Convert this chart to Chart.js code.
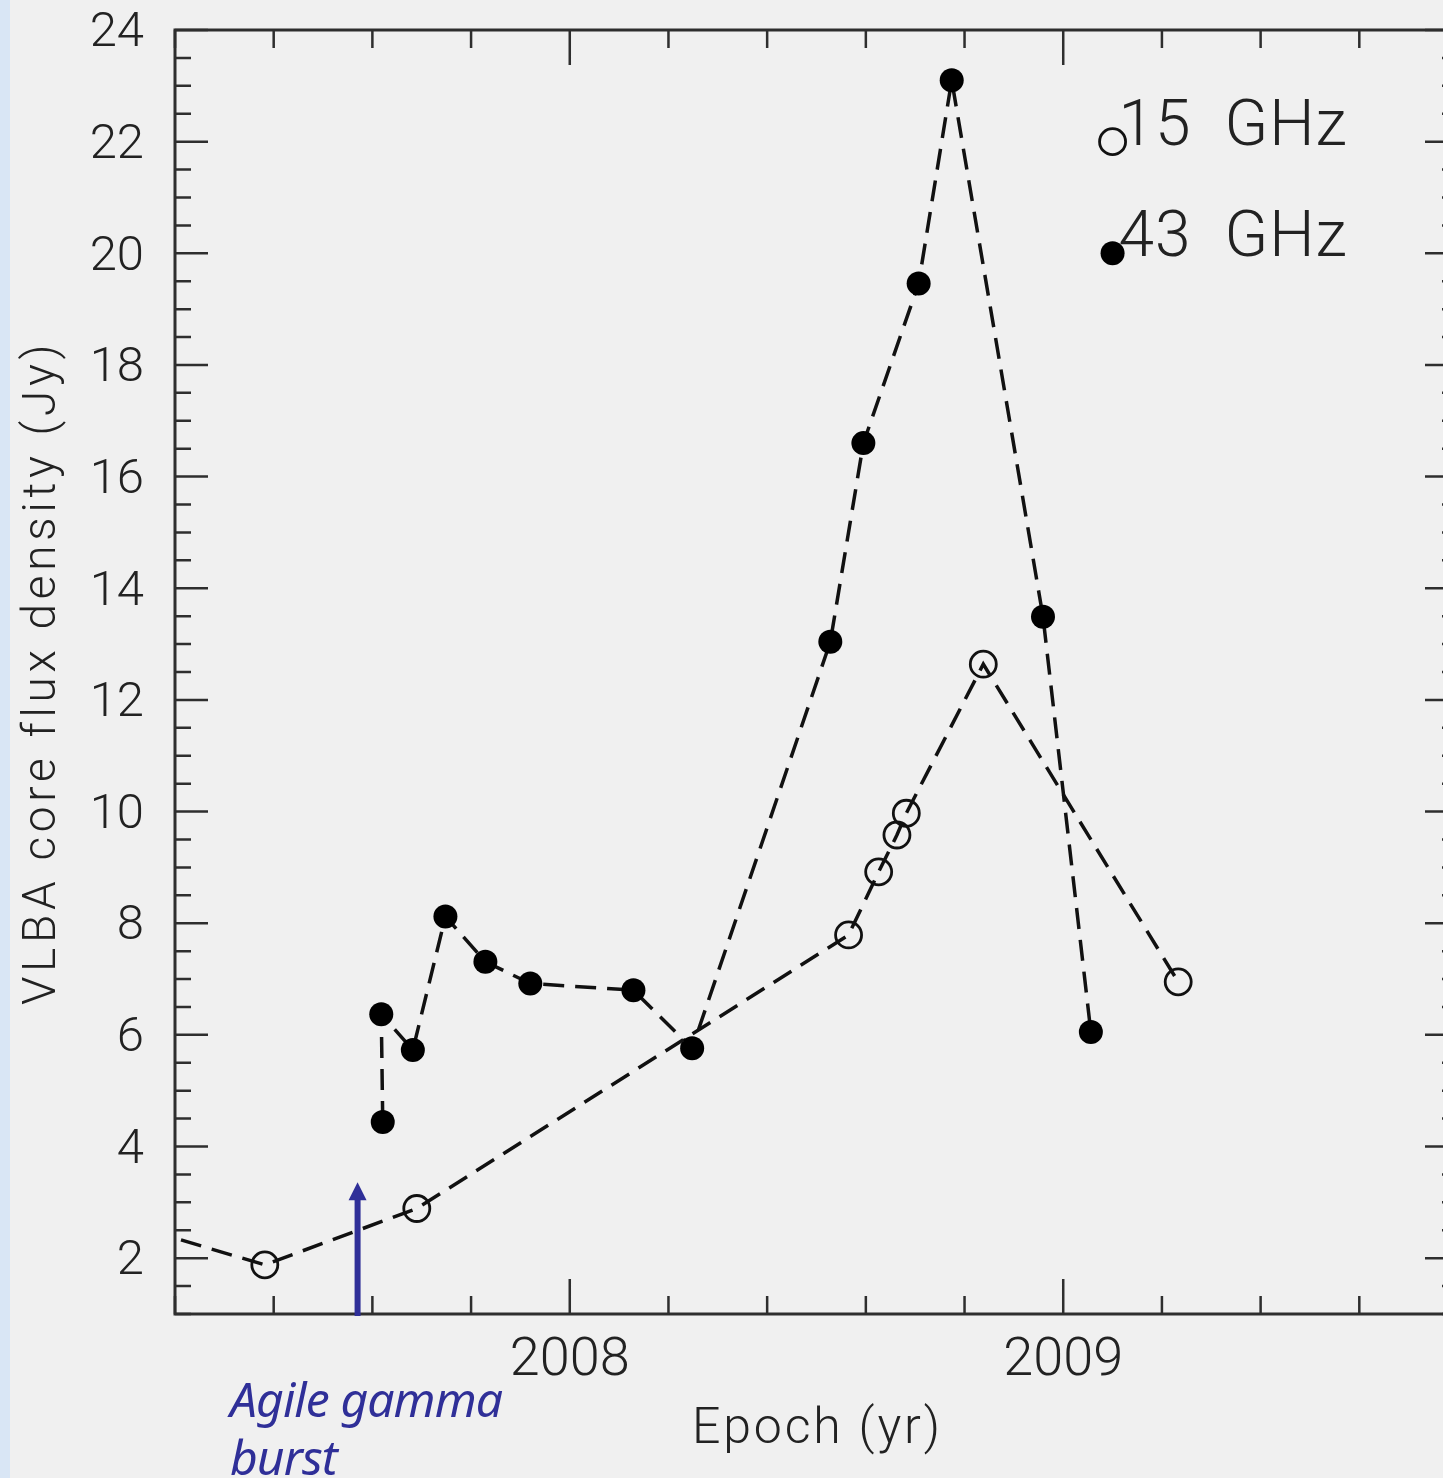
<!DOCTYPE html>
<html>
<head>
<meta charset="utf-8">
<title>VLBA core flux density</title>
<script src="https://cdn.jsdelivr.net/npm/chart.js@4.4.0/dist/chart.umd.min.js"></script>
<style>
  html, body { margin: 0; padding: 0; background: #f0f0f0; overflow: hidden; }
  #strip { position: absolute; left: 0; top: 0; width: 10px; height: 1478px; background: #d9e6f5; }
  #myChart { position: absolute; left: 0; top: 0; }
</style>
</head>
<body>
<div id="strip"></div>
<canvas id="myChart" width="1480" height="1478"></canvas>
<script>
// epochs (decimal year) and VLBA core flux densities (Jy)
var epoch15 = [2007.15, 2007.382, 2007.690, 2008.565, 2008.626, 2008.663, 2008.682, 2008.838, 2009.233];
var flux15  = [2.49, 1.88, 2.89, 7.79, 8.92, 9.58, 9.97, 12.64, 6.95];
var epoch43 = [2007.621, 2007.618, 2007.682, 2007.748, 2007.829, 2007.920, 2008.129, 2008.248,
               2008.528, 2008.595, 2008.707, 2008.774, 2008.959, 2009.056];
var flux43  = [4.44, 6.37, 5.73, 8.12, 7.31, 6.92, 6.80, 5.76, 13.04, 16.60, 19.46, 23.10, 13.49, 6.05];

// key drawn inside the frame
var keyLabels = ['15  GHz', '43  GHz'];
var keyEpoch  = [2009.1, 2009.1];
var keyFlux   = [22, 20];

// axis ranges and tick steps
var xRange = [2007.2, 2009.8];
var yRange = [1, 24];
var xStep = 0.2;
var yStep = 0.5;

// gamma-ray flare marker
var burstEpoch = 2007.57;
var burstTop = 3.36;
var burstLines = ['Agile gamma', 'burst'];

var ink = '#222';
var blue = '#2f2f98';

function pts(xs, ys) {
  return xs.map(function(x, i) { return {x: x, y: ys[i]}; });
}
function isWhole(v) { return Math.abs(v - Math.round(v)) < 1e-6; }

// text stretched to a given width with letter spacing
function spacedText(ctx, str, x, y, width) {
  ctx.letterSpacing = '0px';
  var w = ctx.measureText(str).width;
  var sp = (width - w) / (str.length - 1);
  ctx.letterSpacing = sp + 'px';
  ctx.fillText(str, x, y);
  ctx.letterSpacing = '0px';
  return sp;
}

// no extra room for half tick labels at the axis ends
function noPad(s) {
  s.paddingTop = 0; s.paddingBottom = 0;
  s.paddingLeft = 0; s.paddingRight = 0;
}

var openPt = {
  showLine: true, borderColor: '#111', borderWidth: 3.5, borderDash: [21, 11],
  pointRadius: 13, pointBorderWidth: 2.8, pointBorderColor: '#111',
  pointBackgroundColor: 'rgba(0,0,0,0)', clip: 0
};
var filledPt = {
  showLine: true, borderColor: '#111', borderWidth: 3.5, borderDash: [21, 11],
  pointRadius: 12, pointBorderWidth: 0, pointBackgroundColor: '#000', clip: 0
};

var data = {
  datasets: [
    Object.assign({label: '15 GHz', data: pts(epoch15, flux15)}, openPt),
    Object.assign({label: '43 GHz', data: pts(epoch43, flux43)}, filledPt),
    Object.assign({label: 'key15', data: [{x: keyEpoch[0], y: keyFlux[0]}]}, openPt, {showLine: false}),
    Object.assign({label: 'key43', data: [{x: keyEpoch[1], y: keyFlux[1]}]}, filledPt, {showLine: false})
  ]
};

// frame with inward ticks on all four sides
var frame = {
  id: 'frame',
  afterDatasetsDraw: function(chart) {
    var a = chart.chartArea, ctx = chart.ctx;
    var xs = chart.scales.x, ys = chart.scales.y;
    ctx.save();
    ctx.strokeStyle = '#2e2e2e';
    ctx.lineWidth = 3;
    ctx.strokeRect(a.left, a.top, a.right - a.left, a.bottom - a.top);
    ctx.lineWidth = 2.5;
    ctx.beginPath();
    xs.ticks.forEach(function(t) {
      var px = xs.getPixelForValue(t.value);
      var len = isWhole(t.value) ? 35 : 18;
      ctx.moveTo(px, a.bottom); ctx.lineTo(px, a.bottom - len);
      ctx.moveTo(px, a.top); ctx.lineTo(px, a.top + len);
    });
    ys.ticks.forEach(function(t) {
      var py = ys.getPixelForValue(t.value);
      var len = (isWhole(t.value) && Math.round(t.value) % 2 === 0) ? 33 : 16;
      ctx.moveTo(a.left, py); ctx.lineTo(a.left + len, py);
      ctx.moveTo(a.right, py); ctx.lineTo(a.right - len, py);
    });
    ctx.stroke();
    ctx.restore();
  },
  afterDraw: function(chart) {
    var a = chart.chartArea, ctx = chart.ctx;
    var xs = chart.scales.x, ys = chart.scales.y;
    ctx.save();
    ctx.fillStyle = ink;
    ctx.textBaseline = 'alphabetic';
    ctx.textAlign = 'left';

    // key labels
    ctx.font = '300 64px Roboto';
    keyLabels.forEach(function(s, i) {
      var px = xs.getPixelForValue(keyEpoch[i]);
      var py = ys.getPixelForValue(keyFlux[i]);
      spacedText(ctx, s, px + 6, py + 3, 228);
    });

    // axis titles
    ctx.font = '300 50px Roboto';
    spacedText(ctx, 'Epoch (yr)', 692, 1443, 248);
    ctx.save();
    ctx.translate(55, 675);
    ctx.rotate(-Math.PI / 2);
    ctx.font = '300 46px Roboto';
    spacedText(ctx, 'VLBA core flux density (Jy)', -330, 0, 660);
    ctx.restore();

    // flare arrow
    var bx = xs.getPixelForValue(burstEpoch);
    var tip = ys.getPixelForValue(burstTop);
    ctx.strokeStyle = blue;
    ctx.fillStyle = blue;
    ctx.lineWidth = 6;
    ctx.beginPath();
    ctx.moveTo(bx, a.bottom + 2);
    ctx.lineTo(bx, tip + 16);
    ctx.stroke();
    ctx.beginPath();
    ctx.moveTo(bx, tip);
    ctx.lineTo(bx - 9, tip + 18);
    ctx.lineTo(bx + 9, tip + 18);
    ctx.closePath();
    ctx.fill();

    ctx.font = 'italic 48px "Noto Sans"';
    var sp = spacedText(ctx, burstLines[0], 230, 1417, 273);
    ctx.letterSpacing = sp + 'px';
    ctx.fillText(burstLines[1], 230, 1475);
    ctx.letterSpacing = '0px';
    ctx.restore();
  }
};

var options = {
  responsive: false,
  animation: false,
  devicePixelRatio: 1,
  layout: { padding: { left: 0, top: 30, right: 22, bottom: 0 } },
  plugins: { legend: { display: false }, tooltip: { enabled: false } },
  scales: {
    x: {
      type: 'linear', min: xRange[0], max: xRange[1],
      grid: { display: false, drawTicks: false }, border: { display: false },
      ticks: {
        stepSize: xStep, autoSkip: false, maxRotation: 0, padding: 15, color: ink,
        font: { family: 'Roboto', size: 54, weight: 300 },
        callback: function(v) { return isWhole(v) ? String(Math.round(v)) : ''; }
      },
      afterFit: function(s) { s.height = 164; noPad(s); }
    },
    y: {
      type: 'linear', min: yRange[0], max: yRange[1],
      grid: { display: false, drawTicks: false }, border: { display: false },
      ticks: {
        stepSize: yStep, autoSkip: false, padding: 31, labelOffset: 4, color: ink,
        font: { family: 'Roboto', size: 49, weight: 300 },
        callback: function(v) { return (isWhole(v) && Math.round(v) % 2 === 0) ? String(Math.round(v)) : ''; }
      },
      afterFit: function(s) { s.width = 175; noPad(s); }
    }
  }
};

var ctx = document.getElementById('myChart').getContext('2d');
var myChart = new Chart(ctx, {
  type: 'scatter',
  data: data,
  options: options,
  plugins: [frame]
});
</script>
</body>
</html>
